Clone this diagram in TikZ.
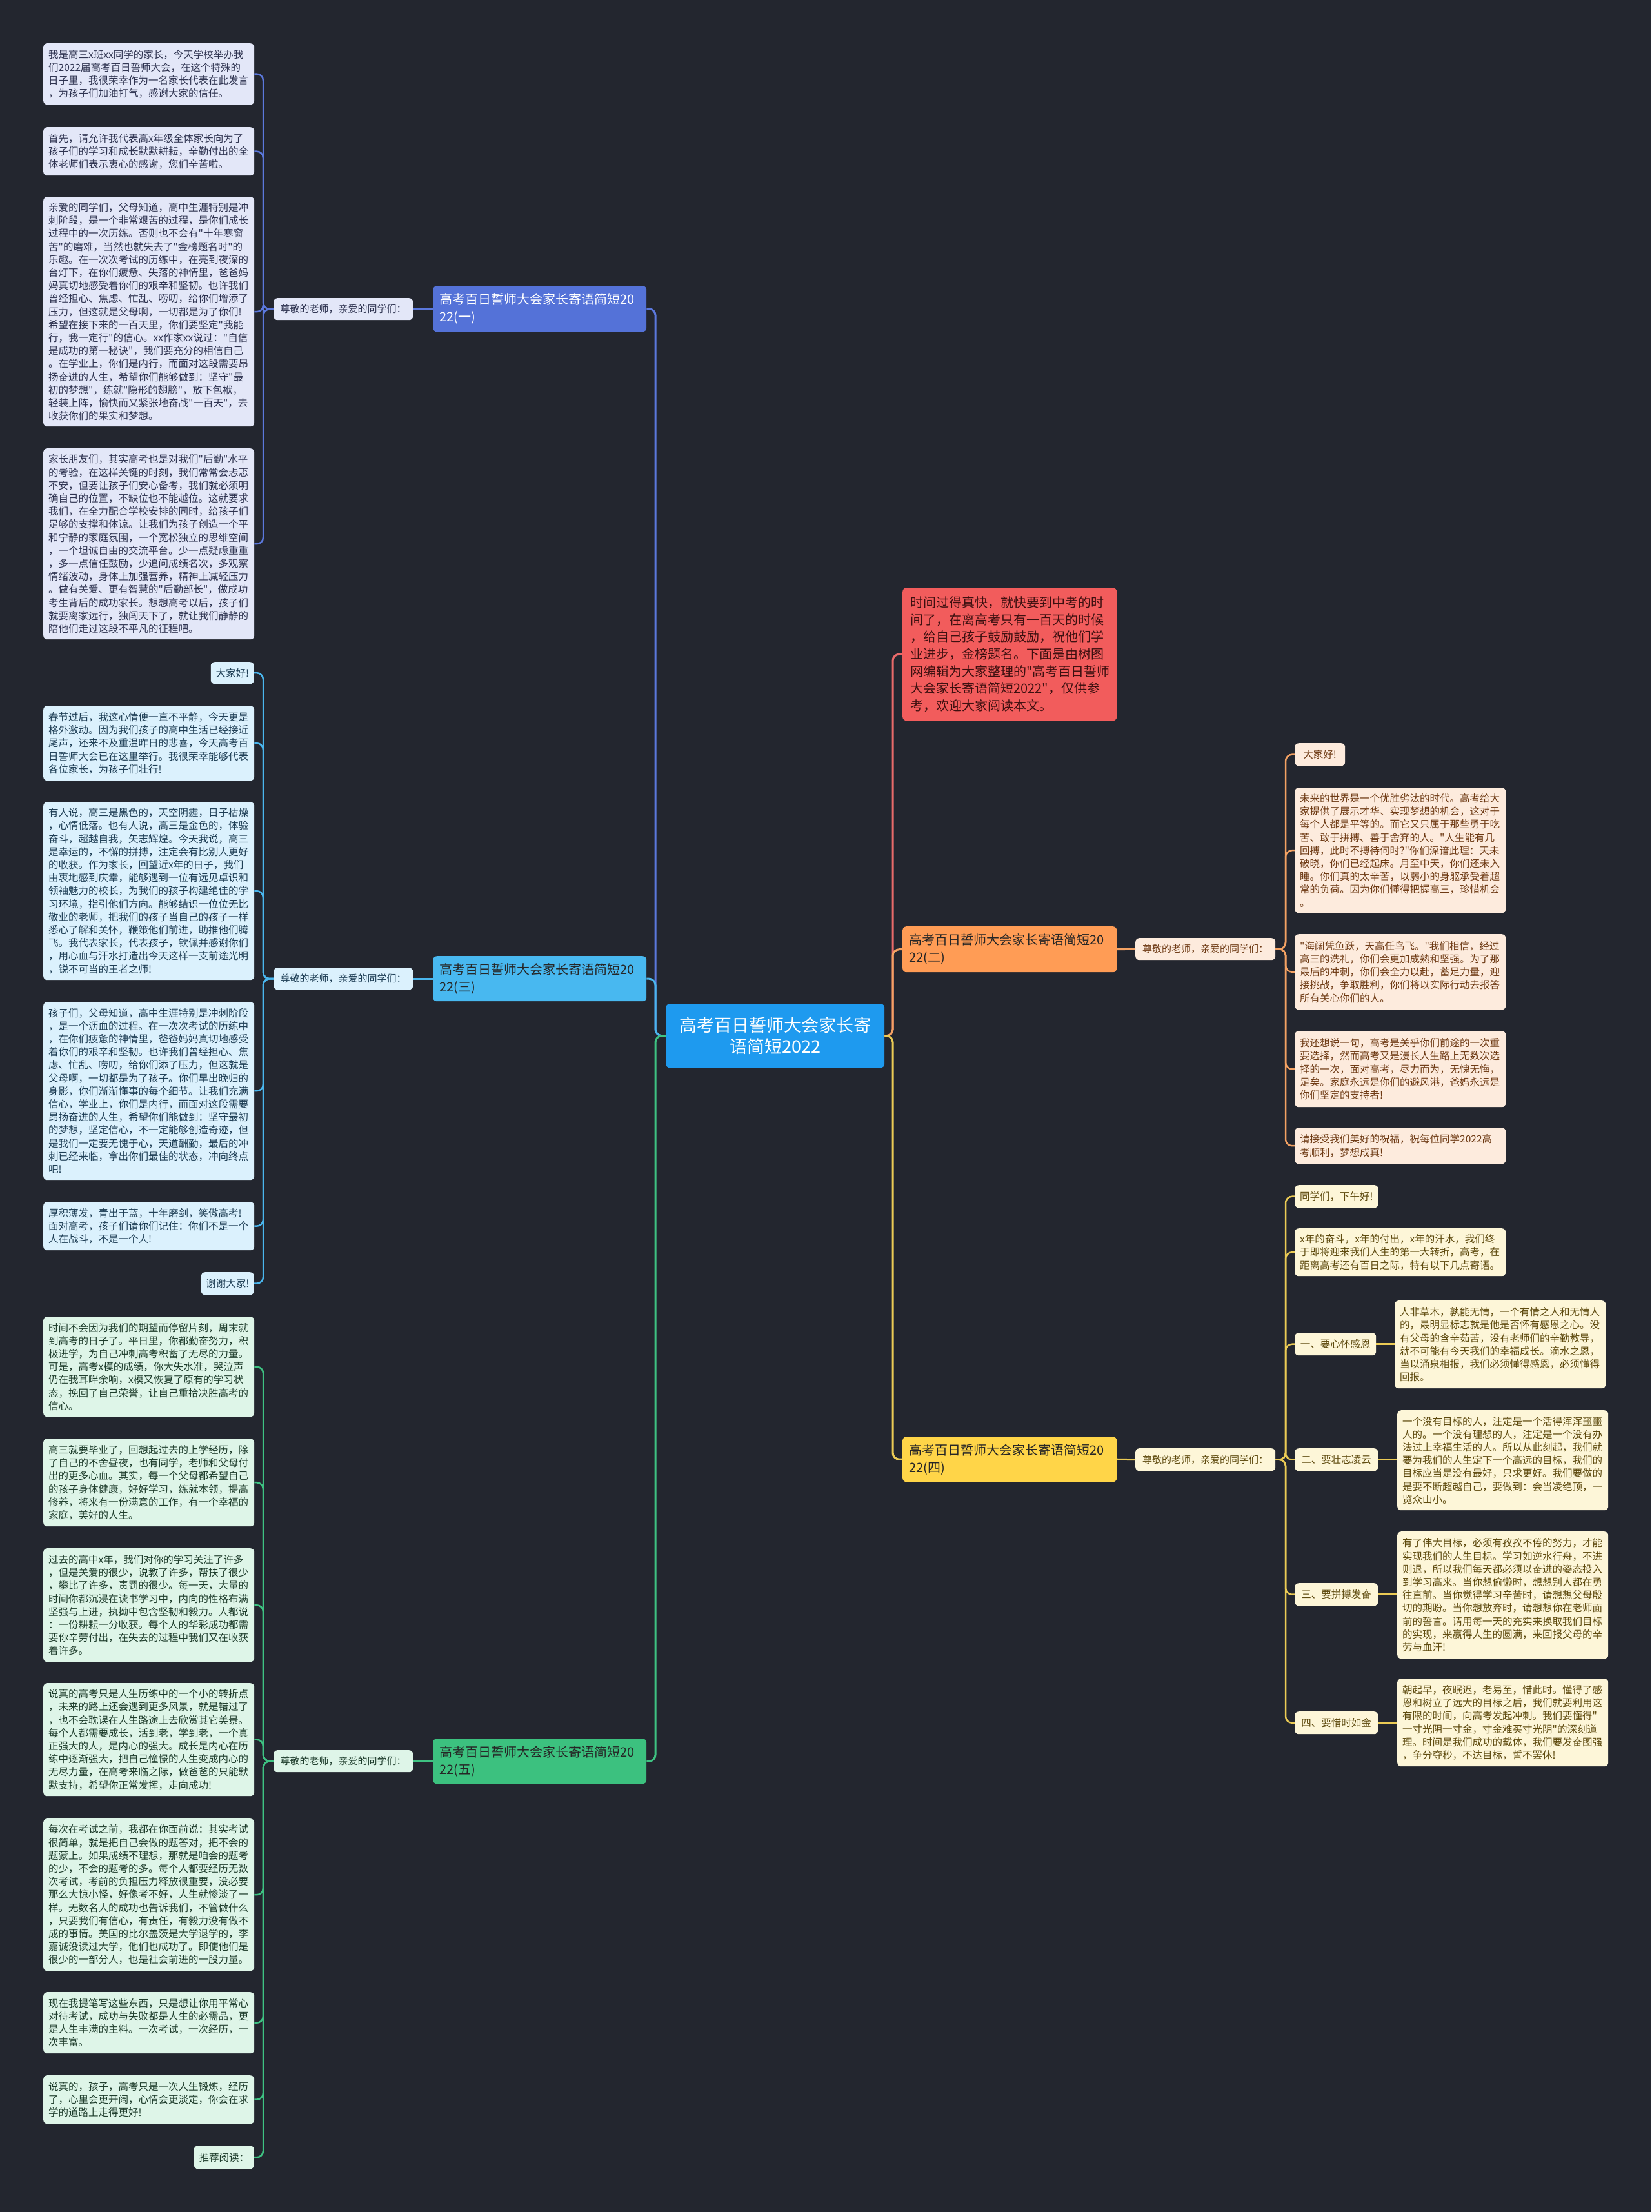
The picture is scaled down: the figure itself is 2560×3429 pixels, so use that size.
\documentclass[tikz,border=0pt]{standalone}
\usepackage{fontspec}
\newfontfamily\cjk{Noto Sans CJK SC}
\definecolor{bgc}{HTML}{23262F}
\definecolor{rootc}{HTML}{1E9AEF}
\definecolor{colA}{HTML}{5472D8}\definecolor{lnA}{HTML}{5B78DC}\definecolor{lfA}{HTML}{E3E7F8}\definecolor{txA}{HTML}{2E3350}
\definecolor{colC}{HTML}{48B8F0}\definecolor{lnC}{HTML}{4AB6EE}\definecolor{lfC}{HTML}{DBF1FD}\definecolor{txC}{HTML}{1E3E55}
\definecolor{colE}{HTML}{3CC17F}\definecolor{lnE}{HTML}{3EC282}\definecolor{lfE}{HTML}{DEF5E8}\definecolor{txE}{HTML}{1E3D2C}
\definecolor{colR}{HTML}{F25C5C}\definecolor{lnR}{HTML}{E86A6A}\definecolor{txR}{HTML}{3D1010}
\definecolor{colB}{HTML}{FF9C55}\definecolor{lnB}{HTML}{F4A263}\definecolor{lfB}{HTML}{FDEBDD}\definecolor{txB}{HTML}{6E3A14}
\definecolor{colD}{HTML}{FFD548}\definecolor{lnD}{HTML}{EBCB55}\definecolor{lfD}{HTML}{FDF6D8}\definecolor{txD}{HTML}{5E4A0E}
\tikzset{
 base/.style={rounded corners=6pt, anchor=north west, align=left, inner xsep=8pt, inner ysep=0pt,
   font={\cjk\fontsize{15.5}{20.2}\selectfont}},
 leafw/.style={minimum width=327, text width=311},
 lA/.style={base, fill=lfA, text=txA},
 lC/.style={base, fill=lfC, text=txC},
 lE/.style={base, fill=lfE, text=txE},
 lB/.style={base, fill=lfB, text=txB},
 lD/.style={base, fill=lfD, text=txD},
 labsty/.style={font={\cjk\fontsize{15}{20}\selectfont}, inner xsep=10pt},
 brsty/.style={rounded corners=6pt, anchor=north west, align=left, inner xsep=10pt, inner ysep=0pt,
   font={\cjk\fontsize{20}{26.7}\selectfont}, minimum width=331, text width=311},
 conA/.style={draw=lnA, line width=3pt, rounded corners=10pt},
 conC/.style={draw=lnC, line width=3pt, rounded corners=10pt},
 conE/.style={draw=lnE, line width=3pt, rounded corners=10pt},
 conR/.style={draw=lnR, line width=3pt, rounded corners=10pt},
 conB/.style={draw=lnB, line width=3pt, rounded corners=10pt},
 conD/.style={draw=lnD, line width=3pt, rounded corners=10pt},
}
\begin{document}
\begin{tikzpicture}[x=1pt,y=-1pt]
\fill[bgc] (0,0) rectangle (2560,3429);
\useasboundingbox (0,0) rectangle (2560,3429);
\coordinate (tL) at (1016,0);
\coordinate (tR) at (1384,0);
\coordinate (sL) at (408,0);
\coordinate (sR) at (1993,0);

% root
\node[rounded corners=6pt, anchor=north west, fill=rootc, text=white, align=center,
  font={\cjk\fontsize{27}{33}\selectfont}, minimum width=339, minimum height=99, text width=315, inner xsep=12pt]
  (root) at (1032,1556) {高考百日誓师大会家长寄\\语简短2022};

% branches
\node[brsty, fill=colA, text=white, minimum height=71] (brA) at (671,443) {高考百日誓师大会家长寄语简短20\\22(一)};
\node[brsty, fill=colC, text=black!85, minimum height=70] (brC) at (671,1482) {高考百日誓师大会家长寄语简短20\\22(三)};
\node[brsty, fill=colE, text=black!85, minimum height=70] (brE) at (671,2695) {高考百日誓师大会家长寄语简短20\\22(五)};
\node[brsty, fill=colB, text=black!85, minimum height=71, minimum width=332] (brB) at (1399,1436) {高考百日誓师大会家长寄语简短20\\22(二)};
\node[brsty, fill=colD, text=black!85, minimum height=70, minimum width=332] (brD) at (1399,2227) {高考百日誓师大会家长寄语简短20\\22(四)};
\node[brsty, fill=colR, text=txR, minimum height=206, minimum width=332, inner xsep=12pt, text width=308] (red) at (1399,911) {时间过得真快，就快要到中考的时\\间了，在离高考只有一百天的时候\\，给自己孩子鼓励鼓励，祝他们学\\业进步，金榜题名。下面是由树图\\网编辑为大家整理的"高考百日誓师\\大会家长寄语简短2022"，仅供参\\考，欢迎大家阅读本文。};

% labels
\node[lA, labsty, minimum width=216, minimum height=34] (labA) at (424,462) {尊敬的老师，亲爱的同学们：};
\node[lC, labsty, minimum width=216, minimum height=34] (labC) at (424,1500) {尊敬的老师，亲爱的同学们：};
\node[lE, labsty, minimum width=216, minimum height=34] (labE) at (424,2713) {尊敬的老师，亲爱的同学们：};
\node[lB, labsty, minimum width=217, minimum height=34] (labB) at (1760,1454) {尊敬的老师，亲爱的同学们：};
\node[lD, labsty, minimum width=217, minimum height=35] (labD) at (1760,2245) {尊敬的老师，亲爱的同学们：};

% section (一)
\node[lA, leafw, minimum height=95] (a1) at (67,67) {我是高三x班xx同学的家长，今天学校举办我\\们2022届高考百日誓师大会，在这个特殊的\\日子里，我很荣幸作为一名家长代表在此发言\\，为孩子们加油打气，感谢大家的信任。};
\node[lA, leafw, minimum height=75] (a2) at (67,197) {首先，请允许我代表高x年级全体家长向为了\\孩子们的学习和成长默默耕耘，辛勤付出的全\\体老师们表示衷心的感谢，您们辛苦啦。};
\node[lA, leafw, minimum height=356] (a3) at (67,305) {亲爱的同学们，父母知道，高中生涯特别是冲\\刺阶段，是一个非常艰苦的过程，是你们成长\\过程中的一次历练。否则也不会有"十年寒窗\\苦"的磨难，当然也就失去了"金榜题名时"的\\乐趣。在一次次考试的历练中，在亮到夜深的\\台灯下，在你们疲惫、失落的神情里，爸爸妈\\妈真切地感受着你们的艰辛和坚韧。也许我们\\曾经担心、焦虑、忙乱、唠叨，给你们增添了\\压力，但这就是父母啊，一切都是为了你们!\\希望在接下来的一百天里，你们要坚定"我能\\行，我一定行"的信心。xx作家xx说过："自信\\是成功的第一秘诀"，我们要充分的相信自己\\。在学业上，你们是内行，而面对这段需要昂\\扬奋进的人生，希望你们能够做到：坚守"最\\初的梦想"，练就"隐形的翅膀"，放下包袱，\\轻装上阵，愉快而又紧张地奋战"一百天"，去\\收获你们的果实和梦想。};
\node[lA, leafw, minimum height=296] (a4) at (67,695) {家长朋友们，其实高考也是对我们"后勤"水平\\的考验，在这样关键的时刻，我们常常会忐忑\\不安，但要让孩子们安心备考，我们就必须明\\确自己的位置，不缺位也不能越位。这就要求\\我们，在全力配合学校安排的同时，给孩子们\\足够的支撑和体谅。让我们为孩子创造一个平\\和宁静的家庭氛围，一个宽松独立的思维空间\\，一个坦诚自由的交流平台。少一点疑虑重重\\，多一点信任鼓励，少追问成绩名次，多观察\\情绪波动，身体上加强营养，精神上减轻压力\\。做有关爱、更有智慧的"后勤部长"，做成功\\考生背后的成功家长。想想高考以后，孩子们\\就要离家远行，独闯天下了，就让我们静静的\\陪他们走过这段不平凡的征程吧。};

% section (三)
\node[lC, anchor=north east, minimum width=67, minimum height=34, inner xsep=5pt] (c0) at (394,1026) {大家好!};
\node[lC, leafw, minimum height=116] (c1) at (67,1094) {春节过后，我这心情便一直不平静，今天更是\\格外激动。因为我们孩子的高中生活已经接近\\尾声，还来不及重温昨日的悲喜，今天高考百\\日誓师大会已在这里举行。我很荣幸能够代表\\各位家长，为孩子们壮行!};
\node[lC, leafw, minimum height=276] (c2) at (67,1243) {有人说，高三是黑色的，天空阴霾，日子枯燥\\，心情低落。也有人说，高三是金色的，体验\\奋斗，超越自我，矢志辉煌。今天我说，高三\\是幸运的，不懈的拼搏，注定会有比别人更好\\的收获。作为家长，回望近x年的日子，我们\\由衷地感到庆幸，能够遇到一位有远见卓识和\\领袖魅力的校长，为我们的孩子构建绝佳的学\\习环境，指引他们方向。能够结识一位位无比\\敬业的老师，把我们的孩子当自己的孩子一样\\悉心了解和关怀，鞭策他们前进，助推他们腾\\飞。我代表家长，代表孩子，钦佩并感谢你们\\，用心血与汗水打造出今天这样一支前途光明\\，锐不可当的王者之师!};
\node[lC, leafw, minimum height=276] (c3) at (67,1553) {孩子们，父母知道，高中生涯特别是冲刺阶段\\，是一个沥血的过程。在一次次考试的历练中\\，在你们疲惫的神情里，爸爸妈妈真切地感受\\着你们的艰辛和坚韧。也许我们曾经担心、焦\\虑、忙乱、唠叨，给你们添了压力，但这就是\\父母啊，一切都是为了孩子。你们早出晚归的\\身影，你们渐渐懂事的每个细节。让我们充满\\信心，学业上，你们是内行，而面对这段需要\\昂扬奋进的人生，希望你们能做到：坚守最初\\的梦想，坚定信心，不一定能够创造奇迹，但\\是我们一定要无愧于心，天道酬勤，最后的冲\\刺已经来临，拿出你们最佳的状态，冲向终点\\吧!};
\node[lC, leafw, minimum height=75] (c4) at (67,1863) {厚积薄发，青出于蓝，十年磨剑，笑傲高考!\\面对高考，孩子们请你们记住：你们不是一个\\人在战斗，不是一个人!};
\node[lC, anchor=north east, minimum width=82, minimum height=35, inner xsep=5pt] (c5) at (394,1972) {谢谢大家!};

% section (五)
\node[lE, leafw, minimum height=155] (e1) at (67,2041) {时间不会因为我们的期望而停留片刻，周末就\\到高考的日子了。平日里，你都勤奋努力，积\\极进学，为自己冲刺高考积蓄了无尽的力量。\\可是，高考x模的成绩，你大失水准，哭泣声\\仍在我耳畔余响，x模又恢复了原有的学习状\\态，挽回了自己荣誉，让自己重拾决胜高考的\\信心。};
\node[lE, leafw, minimum height=136] (e2) at (67,2230) {高三就要毕业了，回想起过去的上学经历，除\\了自己的不舍昼夜，也有同学，老师和父母付\\出的更多心血。其实，每一个父母都希望自己\\的孩子身体健康，好好学习，练就本领，提高\\修养，将来有一份满意的工作，有一个幸福的\\家庭，美好的人生。};
\node[lE, leafw, minimum height=176] (e3) at (67,2400) {过去的高中x年，我们对你的学习关注了许多\\，但是关爱的很少，说教了许多，帮扶了很少\\，攀比了许多，责罚的很少。每一天，大量的\\时间你都沉浸在读书学习中，内向的性格布满\\坚强与上进，执拗中包含坚韧和毅力。人都说\\：一份耕耘一分收获。每个人的华彩成功都需\\要你辛劳付出，在失去的过程中我们又在收获\\着许多。};
\node[lE, leafw, minimum height=175] (e4) at (67,2609) {说真的高考只是人生历练中的一个小的转折点\\，未来的路上还会遇到更多风景，就是错过了\\，也不会耽误在人生路途上去欣赏其它美景。\\每个人都需要成长，活到老，学到老，一个真\\正强大的人，是内心的强大。成长是内心在历\\练中逐渐强大，把自己憧憬的人生变成内心的\\无尽力量，在高考来临之际，做爸爸的只能默\\默支持，希望你正常发挥，走向成功!};
\node[lE, leafw, minimum height=236] (e5) at (67,2819) {每次在考试之前，我都在你面前说：其实考试\\很简单，就是把自己会做的题答对，把不会的\\题蒙上。如果成绩不理想，那就是咱会的题考\\的少，不会的题考的多。每个人都要经历无数\\次考试，考前的负担压力释放很重要，没必要\\那么大惊小怪，好像考不好，人生就惨淡了一\\样。无数名人的成功也告诉我们，不管做什么\\，只要我们有信心，有责任，有毅力没有做不\\成的事情。美国的比尔盖茨是大学退学的，李\\嘉诚没读过大学，他们也成功了。即使他们是\\很少的一部分人，也是社会前进的一股力量。};
\node[lE, leafw, minimum height=95] (e6) at (67,3088) {现在我提笔写这些东西，只是想让你用平常心\\对待考试，成功与失败都是人生的必需品，更\\是人生丰满的主料。一次考试，一次经历，一\\次丰富。};
\node[lE, leafw, minimum height=75] (e7) at (67,3217) {说真的，孩子，高考只是一次人生锻炼，经历\\了，心里会更开阔，心情会更淡定，你会在求\\学的道路上走得更好!};
\node[lE, anchor=north east, minimum width=93, minimum height=36, inner xsep=5pt] (e8) at (394,3326) {推荐阅读：};

% section (二)
\node[lB, minimum width=78, minimum height=35, inner xsep=6pt] (b0) at (2007,1152) {大家好!};
\node[lB, leafw, minimum height=194] (b1) at (2007,1221) {未来的世界是一个优胜劣汰的时代。高考给大\\家提供了展示才华、实现梦想的机会，这对于\\每个人都是平等的。而它又只属于那些勇于吃\\苦、敢于拼搏、善于舍弃的人。"人生能有几\\回搏，此时不搏待何时?"你们深谙此理：天未\\破晓，你们已经起床。月至中天，你们还未入\\睡。你们真的太辛苦，以弱小的身躯承受着超\\常的负荷。因为你们懂得把握高三，珍惜机会\\。};
\node[lB, leafw, minimum height=117] (b2) at (2007,1448) {"海阔凭鱼跃，天高任鸟飞。"我们相信，经过\\高三的洗礼，你们会更加成熟和坚强。为了那\\最后的冲刺，你们会全力以赴，蓄足力量，迎\\接挑战，争取胜利，你们将以实际行动去报答\\所有关心你们的人。};
\node[lB, leafw, minimum height=118] (b3) at (2007,1598) {我还想说一句，高考是关乎你们前途的一次重\\要选择，然而高考又是漫长人生路上无数次选\\择的一次，面对高考，尽力而为，无愧无悔，\\足矣。家庭永远是你们的避风港，爸妈永远是\\你们坚定的支持者!};
\node[lB, leafw, minimum height=56] (b4) at (2007,1748) {请接受我们美好的祝福，祝每位同学2022高\\考顺利，梦想成真!};

% section (四)
\node[lD, minimum width=129, minimum height=35] (d0) at (2007,1837) {同学们，下午好!};
\node[lD, leafw, minimum height=74] (d1) at (2007,1904) {x年的奋斗，x年的付出，x年的汗水，我们终\\于即将迎来我们人生的第一大转折，高考，在\\距离高考还有百日之际，特有以下几点寄语。};
\node[lD, minimum width=126, minimum height=35] (s1) at (2007,2066) {一、要心怀感恩};
\node[lD, minimum width=129, minimum height=35] (s2) at (2007,2245) {二、要壮志凌云};
\node[lD, minimum width=129, minimum height=35] (s3) at (2007,2454) {三、要拼搏发奋};
\node[lD, minimum width=129, minimum height=35] (s4) at (2007,2653) {四、要惜时如金};
\node[lD, leafw, minimum height=136] (t1) at (2162,2016) {人非草木，孰能无情，一个有情之人和无情人\\的，最明显标志就是他是否怀有感恩之心。没\\有父母的含辛茹苦，没有老师们的辛勤教导，\\就不可能有今天我们的幸福成长。滴水之恩，\\当以涌泉相报，我们必须懂得感恩，必须懂得\\回报。};
\node[lD, leafw, minimum height=155] (t2) at (2166,2186) {一个没有目标的人，注定是一个活得浑浑噩噩\\人的。一个没有理想的人，注定是一个没有办\\法过上幸福生活的人。所以从此刻起，我们就\\要为我们的人生定下一个高远的目标，我们的\\目标应当是没有最好，只求更好。我们要做的\\是要不断超越自己，要做到：会当凌绝顶，一\\览众山小。};
\node[lD, leafw, minimum height=197] (t3) at (2166,2374) {有了伟大目标，必须有孜孜不倦的努力，才能\\实现我们的人生目标。学习如逆水行舟，不进\\则退，所以我们每天都必须以奋进的姿态投入\\到学习高来。当你想偷懒时，想想别人都在勇\\往直前。当你觉得学习辛苦时，请想想父母殷\\切的期盼。当你想放弃时，请想想你在老师面\\前的誓言。请用每一天的充实来换取我们目标\\的实现，来赢得人生的圆满，来回报父母的辛\\劳与血汗!};
\node[lD, leafw, minimum height=136] (t4) at (2166,2602) {朝起早，夜眠迟，老易至，惜此时。懂得了感\\恩和树立了远大的目标之后，我们就要利用这\\有限的时间，向高考发起冲刺。我们要懂得"\\一寸光阴一寸金，寸金难买寸光阴"的深刻道\\理。时间是我们成功的载体，我们要发奋图强\\，争分夺秒，不达目标，誓不罢休!};

% trunk connectors
\draw[conA] (root.west) -- (root.west -| tL) |- (brA.east);
\draw[conC] (root.west) -- (root.west -| tL) |- (brC.east);
\draw[conE] (root.west) -- (root.west -| tL) |- (brE.east);
\draw[conR] (root.east) -- (root.east -| tR) |- (red.west);
\draw[conB] (root.east) -- (root.east -| tR) |- (brB.west);
\draw[conD] (root.east) -- (root.east -| tR) |- (brD.west);

% branch to label
\draw[conA] (brA.west) -- (labA.east);
\draw[conC] (brC.west) -- (labC.east);
\draw[conE] (brE.west) -- (labE.east);
\draw[conB] (brB.east) -- (labB.west);
\draw[conD] (brD.east) -- (labD.west);

% label to leaves
\foreach \n in {a1,a2,a3,a4}{\draw[conA, line width=2.5pt] (labA.west) -- (labA.west -| sL) |- (\n.east);}
\foreach \n in {c0,c1,c2,c3,c4,c5}{\draw[conC, line width=2.5pt] (labC.west) -- (labC.west -| sL) |- (\n.east);}
\foreach \n in {e1,e2,e3,e4,e5,e6,e7,e8}{\draw[conE, line width=2.5pt] (labE.west) -- (labE.west -| sL) |- (\n.east);}
\foreach \n in {b0,b1,b2,b3,b4}{\draw[conB, line width=2.5pt] (labB.east) -- (labB.east -| sR) |- (\n.west);}
\foreach \n in {d0,d1,s1,s2,s3,s4}{\draw[conD, line width=2.5pt] (labD.east) -- (labD.east -| sR) |- (\n.west);}
\draw[conD, line width=2.5pt] (s1.east) -- (s1.east -| t1.west);
\draw[conD, line width=2.5pt] (s2.east) -- (s2.east -| t2.west);
\draw[conD, line width=2.5pt] (s3.east) -- (s3.east -| t3.west);
\draw[conD, line width=2.5pt] (s4.east) -- (s4.east -| t4.west);
\end{tikzpicture}
\end{document}
